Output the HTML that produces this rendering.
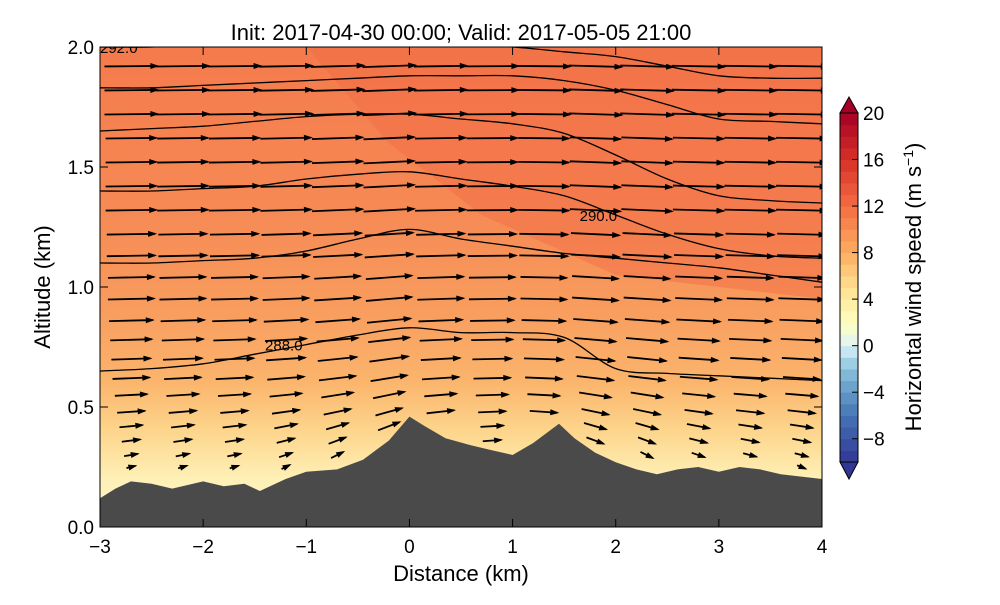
<!DOCTYPE html>
<html><head><meta charset="utf-8"><style>
body{margin:0;background:#fff;}
svg text{font-family:"Liberation Sans","DejaVu Sans",sans-serif;fill:#000;}
</style></head><body>
<svg id="chart" width="1000" height="600" xmlns="http://www.w3.org/2000/svg">
<defs>
<linearGradient id="bg" x1="0" y1="0" x2="0" y2="1">
<stop offset="0" stop-color="#f57a4c"/>
<stop offset="0.35" stop-color="#f68a55"/>
<stop offset="0.55" stop-color="#f89d5e"/>
<stop offset="0.7" stop-color="#fbb56d"/>
<stop offset="0.8" stop-color="#fdd58c"/>
<stop offset="0.9" stop-color="#fef0b6"/>
<stop offset="1" stop-color="#fdf9cc"/>
</linearGradient>
<clipPath id="clip"><rect x="100" y="47" width="722" height="480"/></clipPath>
</defs>
<g id="plot" clip-path="url(#clip)"></g>
<rect x="100" y="47" width="722" height="480" fill="none" stroke="#000" stroke-width="1"/>
<g id="axes"></g>
<text x="461" y="40" font-size="22" text-anchor="middle">Init: 2017-04-30 00:00; Valid: 2017-05-05 21:00</text>
<text x="461" y="581" font-size="22" text-anchor="middle">Distance (km)</text>
<text transform="translate(50,287) rotate(-90)" font-size="22" text-anchor="middle">Altitude (km)</text>
<g id="cbar"></g>
<text transform="translate(921,287) rotate(-90)" font-size="22" text-anchor="middle">Horizontal wind speed (m s<tspan font-size="14" dy="-8">−1</tspan><tspan dy="8">)</tspan></text>
</svg>
<script>
const NS="http://www.w3.org/2000/svg";
const xTicks=[-3,-2,-1,0,1,2,3,4];
const yTicks=[0.0,0.5,1.0,1.5,2.0];
const terrainX=[-3,-2.85,-2.7,-2.5,-2.3,-2,-1.8,-1.6,-1.45,-1.2,-1,-0.7,-0.45,-0.2,0,0.15,0.35,0.6,0.8,1,1.2,1.45,1.6,1.8,2,2.2,2.4,2.6,2.8,3,3.2,3.4,3.6,3.8,4];
const terrainZ=[0.12,0.16,0.19,0.18,0.16,0.19,0.17,0.18,0.15,0.2,0.23,0.24,0.28,0.36,0.46,0.42,0.37,0.34,0.32,0.3,0.35,0.43,0.37,0.31,0.27,0.24,0.22,0.24,0.25,0.23,0.25,0.24,0.22,0.21,0.2];
const contourX=[-3,-2.5,-2,-1.5,-1,-0.5,0,0.5,1,1.5,2,2.5,3,3.5,4];
const contour288=[0.65,0.66,0.68,0.72,0.76,0.8,0.83,0.81,0.81,0.79,0.66,0.64,0.63,0.62,0.61];
const contour1=[1.1,1.1,1.11,1.12,1.15,1.2,1.24,1.2,1.17,1.14,1.12,1.1,1.08,1.05,1.02];
const contour2=[1.4,1.4,1.41,1.42,1.45,1.47,1.48,1.45,1.42,1.38,1.3,1.22,1.16,1.13,1.12];
const contour290=[1.65,1.66,1.67,1.69,1.71,1.72,1.72,1.7,1.68,1.64,1.55,1.45,1.38,1.36,1.35];
const contour4=[1.83,1.83,1.84,1.85,1.86,1.87,1.88,1.88,1.88,1.86,1.82,1.76,1.7,1.69,1.68];
const contour292=[2.0,2.0,2.01,2.02,2.02,2.02,2.02,2.01,2.0,1.98,1.96,1.92,1.88,1.87,1.87];
const arrowCols=[-2.7,-2.2,-1.7,-1.2,-0.7,-0.2,0.3,0.8,1.3,1.8,2.3,2.8,3.3,3.8];
const arrowRows=[0.25,0.3,0.36,0.42,0.48,0.55,0.62,0.7,0.78,0.86,0.95,1.04,1.13,1.22,1.32,1.42,1.52,1.62,1.72,1.82,1.92];
const rowU=[2,3,4,5,6,7,8,8.5,9,9.5,10,10,10.5,10.5,11,11,11,11,11.5,11.5,11.5];
const colW=[0.5,0.6,0.6,1,1.5,2,0.8,0.3,-0.5,-1.5,-1.5,-1,-0.8,-0.8];
const cbLevels=[-10,-9,-8,-7,-6,-5,-4,-3,-2,-1,0,1,2,3,4,5,6,7,8,9,10,11,12,13,14,15,16,17,18,19];
const cbTicks=[-8,-4,0,4,8,12,16,20];
const X=d=>100+(d+3)*722/7, Y=z=>527-z*240, CY=v=>113+(20-v)*(349/30);
function el(t,a,p){const e=document.createElementNS(NS,t);for(const k in a)e.setAttribute(k,a[k]);p.appendChild(e);return e;}
const plot=document.getElementById('plot'),axes=document.getElementById('axes'),cbar=document.getElementById('cbar');
let r=el('rect',{x:100,y:47,width:722,height:480,fill:'url(#bg)'},plot);

let hi=el('polygon',{points:`${X(-1)},47 822,47 822,${Y(0.95)} ${X(2)},${Y(1.05)} ${X(0.7)},${Y(1.3)} ${X(-0.2)},${Y(1.6)}`,fill:'#f26a45',opacity:0.45},plot);

function smooth(pts){let d='M'+pts[0][0]+','+pts[0][1];for(let i=1;i<pts.length;i++){const p0=pts[Math.max(i-2,0)],p1=pts[i-1],p2=pts[i],p3=pts[Math.min(i+1,pts.length-1)];
 d+=` C${p1[0]+(p2[0]-p0[0])/6},${p1[1]+(p2[1]-p0[1])/6} ${p2[0]-(p3[0]-p1[0])/6},${p2[1]-(p3[1]-p1[1])/6} ${p2[0]},${p2[1]}`;}return d;}
[[contour292,'292.0',-3],[contour4,''],[contour290,''],[contour2,'290.0',1.65],[contour1,''],[contour288,'288.0',-1.4]].forEach(c=>{
 const pts=contourX.map((x,j)=>[X(x),Y(c[0][j])]);
 const pl=el('path',{d:smooth(pts),fill:'none',stroke:'#000','stroke-width':1.3},plot);
 
 if(c[1]){const lx=c[2];const j=contourX.findIndex(v=>v>=lx);const t=el('text',{x:X(lx),y:Y(c[0][Math.max(j,0)])+6,'font-size':15},plot);t.textContent=c[1];
 }
});
function terrainAt(x){for(let i=1;i<terrainX.length;i++)if(x<=terrainX[i]){const f=(x-terrainX[i-1])/(terrainX[i]-terrainX[i-1]);return terrainZ[i-1]+f*(terrainZ[i]-terrainZ[i-1]);}return terrainZ[terrainZ.length-1];}
arrowRows.forEach((z,ri)=>{arrowCols.forEach((x,ci)=>{
 if(z<terrainAt(x)+0.04)return;
 const u=rowU[ri],w=colW[ci]*Math.min(1,0.4/z);
 const len=u*4.6,ang=Math.atan2(-w*4.6,len);
 const x0=X(x)-len/2*Math.cos(ang),y0=Y(z)-len/2*Math.sin(ang);
 const x1=X(x)+len/2*Math.cos(ang),y1=Y(z)+len/2*Math.sin(ang);
 const g=el('g',{},plot);
 
 el('line',{x1:x0,y1:y0,x2:x1,y2:y1,stroke:'#000','stroke-width':1.8},g);
 const a=ang,h=7;
 el('polygon',{points:`${x1+2*Math.cos(a)},${y1+2*Math.sin(a)} ${x1-h*Math.cos(a)+3*Math.sin(a)},${y1-h*Math.sin(a)-3*Math.cos(a)} ${x1-h*Math.cos(a)-3*Math.sin(a)},${y1-h*Math.sin(a)+3*Math.cos(a)}`,fill:'#000'},g);
});});
const tp=terrainX.map((x,i)=>X(x)+','+Y(terrainZ[i])).join(' ')+` 822,527 100,527`;
const ter=el('polygon',{points:tp,fill:'#4a4a4a'},plot);

xTicks.forEach(v=>{el('line',{x1:X(v),y1:527,x2:X(v),y2:519,stroke:'#000'},axes);el('line',{x1:X(v),y1:47,x2:X(v),y2:55,stroke:'#000'},axes);
 const t=el('text',{x:X(v),y:553,'font-size':19,'text-anchor':'middle'},axes);t.textContent=v<0?'−'+(-v):v;
 });
yTicks.forEach(v=>{el('line',{x1:100,y1:Y(v),x2:108,y2:Y(v),stroke:'#000'},axes);el('line',{x1:822,y1:Y(v),x2:814,y2:Y(v),stroke:'#000'},axes);
 const t=el('text',{x:94,y:Y(v)+7,'font-size':19,'text-anchor':'end'},axes);t.textContent=v.toFixed(1);
 });
function cmap(v){const s=[[-10,[49,54,149]],[-6,[69,117,180]],[-3,[116,173,209]],[-1,[171,217,233]],[0,[224,243,248]],[2,[255,255,191]],[5,[254,224,144]],[8,[253,174,97]],[12,[244,109,67]],[16,[215,48,39]],[20,[165,0,38]]];
 for(let i=1;i<s.length;i++)if(v<=s[i][0]){const f=(v-s[i-1][0])/(s[i][0]-s[i-1][0]);return 'rgb('+s[i][1].map((c,k)=>Math.round(s[i-1][1][k]+f*(c-s[i-1][1][k]))).join(',')+')';}return 'rgb(165,0,38)';}
cbLevels.forEach(v=>{const b=el('rect',{x:840,y:CY(v+1),width:18,height:CY(v)-CY(v+1)+0.5,fill:cmap(v+0.5)},cbar);
 });
const tt=el('polygon',{points:`840,${CY(20)} 858,${CY(20)} 849,97`,fill:'#a50026',stroke:'#000'},cbar);
const tb=el('polygon',{points:`840,${CY(-10)} 858,${CY(-10)} 849,479`,fill:'#313695',stroke:'#000'},cbar);
el('rect',{x:840,y:CY(20),width:18,height:CY(-10)-CY(20),fill:'none',stroke:'#000'},cbar);
cbTicks.forEach(v=>{el('line',{x1:852,y1:CY(v),x2:858,y2:CY(v),stroke:'#000'},cbar);
 const t=el('text',{x:863,y:CY(v)+7,'font-size':19},cbar);t.textContent=v<0?'−'+(-v):v;
 });
</script>
</body></html>
